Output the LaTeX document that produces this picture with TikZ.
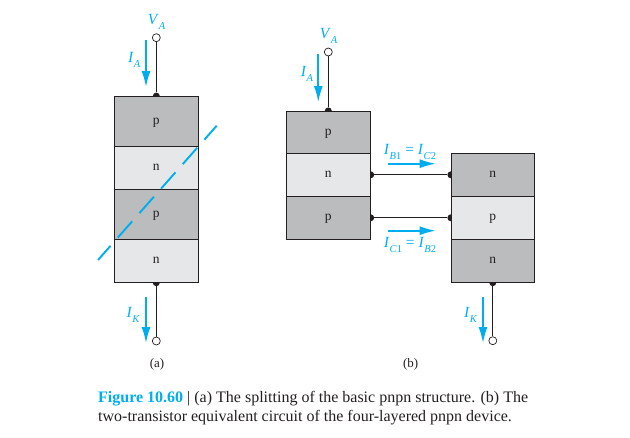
\documentclass[tikz,border=0pt]{standalone}
\usepackage{fontspec}
\setmainfont{Liberation Serif}
\usetikzlibrary{arrows.meta,backgrounds}
\definecolor{layerdark}{HTML}{BBBCBE}
\definecolor{layerlight}{HTML}{E6E7E8}
\definecolor{flowblue}{HTML}{00AEEF}
\definecolor{inkblack}{HTML}{231F20}
\newcommand{\subcur}[2]{\textit{#1}\raisebox{-0.6ex}{\fontsize{10.5}{12}\selectfont #2}}
\tikzset{
	layerbox/.style={draw=inkblack, line width=0.8pt, inner sep=0pt, font=\fontsize{13.5}{15}\selectfont, text=inkblack, text height=6pt, text depth=0pt},
	terminal/.style={circle, draw=inkblack, fill=white, line width=0.7pt, inner sep=0pt, minimum size=8pt},
	joint/.style={circle, fill=inkblack, inner sep=0pt, minimum size=7pt},
	wire/.style={draw=inkblack, line width=0.8pt},
	flow/.style={draw=flowblue, line width=1.7pt, -{Latex[length=16pt, width=9pt]}},
	flowlabel/.style={text=flowblue, font=\fontsize{15.5}{17}\selectfont, inner sep=0pt},
	partlabel/.style={text=inkblack, font=\fontsize{13}{15}\selectfont, inner sep=0pt},
	captionline/.style={anchor=base west, inner sep=0pt, text=inkblack, font=\fontsize{16}{19}\selectfont},
}
\begin{document}
\begin{tikzpicture}[x=1pt, y=-1pt]
	\useasboundingbox (0, 0) rectangle (630, 437);
	% Schichten (a)
	\foreach \name/\ytop/\ybot/\lab/\col in {a1/96.5/146/p/layerdark, a2/146/189.5/n/layerlight, a3/189.5/239.3/p/layerdark, a4/239.3/282.3/n/layerlight} {
		\pgfmathsetmacro{\ymid}{(\ytop+\ybot)/2}
		\pgfmathsetmacro{\yhgt}{\ybot-\ytop}
		\node[layerbox, fill=\col, minimum width=83.5pt, minimum height=\yhgt pt] (\name) at (156.3, \ymid) {\lab};
	}
	% Schichten (b), links
	\foreach \name/\ytop/\ybot/\lab/\col in {l1/111.3/153.3/p/layerdark, l2/153.3/196.3/n/layerlight, l3/196.3/239.3/p/layerdark} {
		\pgfmathsetmacro{\ymid}{(\ytop+\ybot)/2}
		\pgfmathsetmacro{\yhgt}{\ybot-\ytop}
		\node[layerbox, fill=\col, minimum width=84pt, minimum height=\yhgt pt] (\name) at (328.3, \ymid) {\lab};
	}
	% Schichten (b), rechts
	\foreach \name/\ytop/\ybot/\lab/\col in {r1/153.3/196.3/n/layerdark, r2/196.3/239.3/p/layerlight, r3/239.3/282.3/n/layerdark} {
		\pgfmathsetmacro{\ymid}{(\ytop+\ybot)/2}
		\pgfmathsetmacro{\yhgt}{\ybot-\ytop}
		\node[layerbox, fill=\col, minimum width=83pt, minimum height=\yhgt pt] (\name) at (492.8, \ymid) {\lab};
	}
	% Anschluesse
	\node[terminal] (vaa) at (156.3, 37.7) {};
	\node[terminal] (kaa) at (156.3, 341) {};
	\node[terminal] (vab) at (328.3, 52) {};
	\node[terminal] (kab) at (492.8, 340.7) {};
	% Leitungen hinter den Schichten
	\begin{scope}[on background layer]
		\node[joint] (ja1) at (a1.north) {};
		\node[joint] (ja4) at (a4.south) {};
		\node[joint] (jl1) at (l1.north) {};
		\node[joint] (jl2) at (l2.east) {};
		\node[joint] (jl3) at (l3.east) {};
		\node[joint] (jr1) at (r1.west) {};
		\node[joint] (jr2) at (r2.west) {};
		\node[joint] (jr3) at (r3.south) {};
		\draw[wire] (vaa) -- (ja1);
		\draw[wire] (ja4) -- (kaa);
		\draw[wire] (vab) -- (jl1);
		\draw[wire] (jl2) -- (jr1);
		\draw[wire] (jl3) -- (jr2);
		\draw[wire] (jr3) -- (kab);
	\end{scope}
	% Stroeme
	\coordinate (ia0) at (146, 40);
	\coordinate (ia1) at (146, 87);
	\coordinate (ik0) at (146, 297);
	\coordinate (ik1) at (146, 343);
	\coordinate (ib0) at (318.3, 53.7);
	\coordinate (ib1) at (318.3, 102);
	\coordinate (il0) at (483, 297);
	\coordinate (il1) at (483, 343);
	\coordinate (ih0) at (388, 163.7);
	\coordinate (ih1) at (435.7, 163.7);
	\coordinate (ic0) at (388, 230.7);
	\coordinate (ic1) at (435.7, 230.7);
	\draw[flow] (ia0) -- (ia1);
	\draw[flow] (ik0) -- (ik1);
	\draw[flow] (ib0) -- (ib1);
	\draw[flow] (il0) -- (il1);
	\draw[flow] (ih0) -- (ih1);
	\draw[flow] (ic0) -- (ic1);
	% Trennlinie
	\coordinate (cut0) at (216.7, 125.7);
	\coordinate (cut1) at (98, 260);
	\draw[draw=flowblue, line width=1.9pt, dash pattern=on 21.8pt off 10.9pt, dash phase=3.2pt] (cut0) -- (cut1);
	% Beschriftungen
	\node[flowlabel] (lva) at (156.7, 22) {\subcur{V}{\textit{A}}};
	\node[flowlabel] (lia) at (134.3, 60) {\subcur{I}{\textit{A}}};
	\node[flowlabel] (lik) at (133.3, 315) {\subcur{I}{\textit{K}}};
	\node[flowlabel] (lvb) at (328.7, 36) {\subcur{V}{\textit{A}}};
	\node[flowlabel] (lib) at (307, 74) {\subcur{I}{\textit{A}}};
	\node[flowlabel] (lil) at (470.7, 315) {\subcur{I}{\textit{K}}};
	\node[flowlabel] (lih) at (410, 152) {\subcur{I}{\textit{B}1} = \subcur{I}{\textit{C}2}};
	\node[flowlabel] (lic) at (410, 245) {\subcur{I}{\textit{C}1} = \subcur{I}{\textit{B}2}};
	\node[partlabel] (parta) at (157, 364) {(a)};
	\node[partlabel] (partb) at (410.7, 364) {(b)};
	% Bildunterschrift
	\node[captionline] (capa) at (98, 402) {\textcolor{flowblue}{\textbf{Figure 10.60}} | (a) The splitting of the basic pnpn structure. (b) The};
	\node[captionline] (capb) at (98, 421) {two-transistor equivalent circuit of the four-layered pnpn device.};
\end{tikzpicture}
\end{document}
